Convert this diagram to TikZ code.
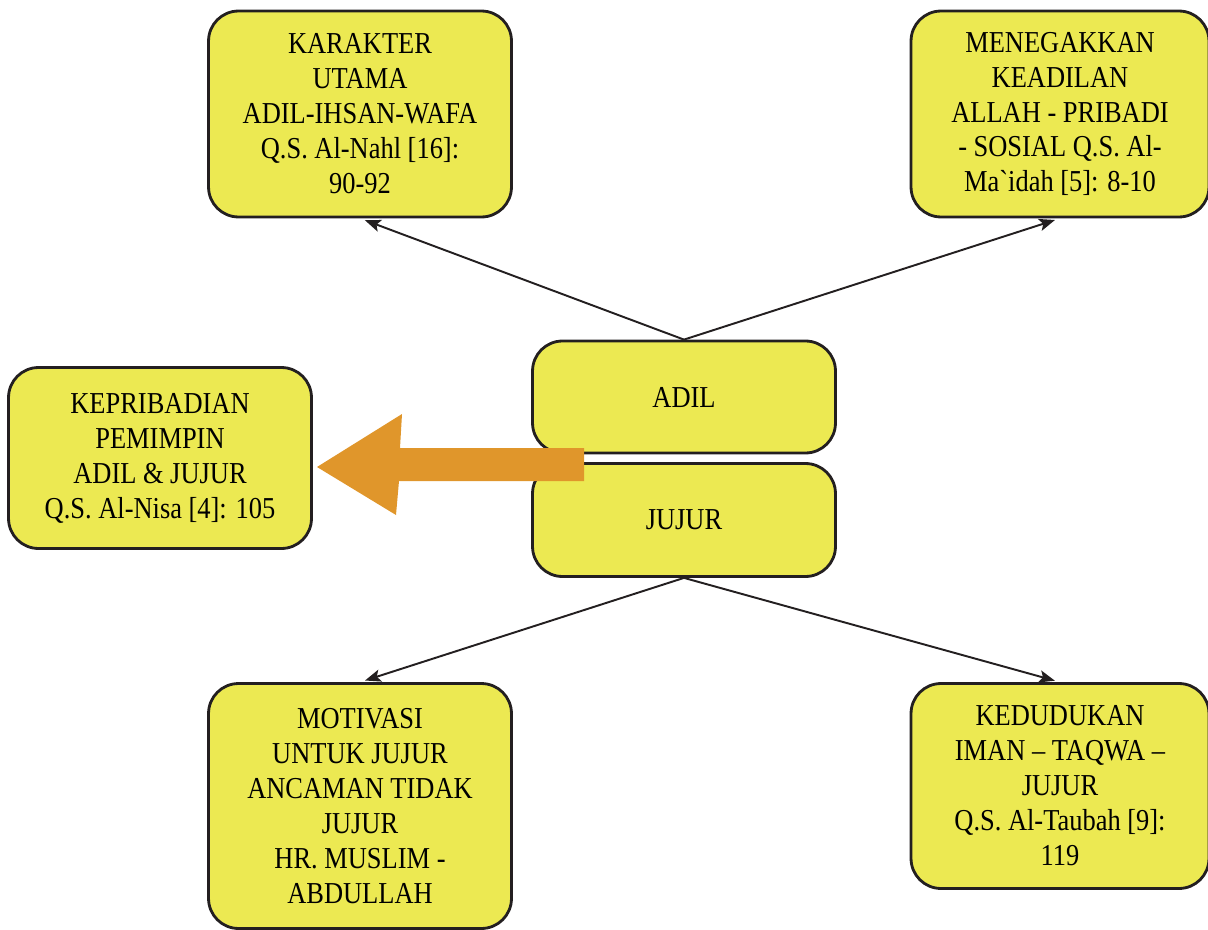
\documentclass[tikz,border=0pt]{standalone}
\usepackage{fontspec}
\setmainfont{Liberation Serif}[FakeStretch=0.87, Ligatures=TeXOff]
\usetikzlibrary{arrows.meta}
\definecolor{boxyellow}{HTML}{ECE952}
\definecolor{arroworange}{HTML}{E0962B}
\definecolor{edgeblack}{HTML}{231F20}
\begin{document}
\begin{tikzpicture}[x=0.02cm, y=-0.02cm]
      \tikzstyle{topic} = [rectangle, rounded corners=0.6cm, minimum width=6.06cm, text centered, align=center, draw=edgeblack, line width=1.6pt, fill=boxyellow, inner sep=0pt, font=\fontsize{17.3}{19.9}\selectfont]
      \tikzstyle{link} = [line width=1.1pt, draw=edgeblack, ->, >={Stealth[length=9pt, width=7pt, inset=2pt]}, shorten >=3pt]

      \useasboundingbox (0,0) rectangle (1208,930);

      \node (karakter) [topic, minimum height=4.12cm] at (360,114) {KARAKTER\\UTAMA\\ADIL-IHSAN-WAFA\\Q.S. Al-Nahl [16]:\\90-92};
      \node (keadilan) [topic, minimum height=4.12cm, minimum width=5.96cm] at (1060,114) {MENEGAKKAN\\KEADILAN\\ALLAH - PRIBADI\\- SOSIAL Q.S. Al-\\Ma`idah [5]: 8-10};
      \node (kepribadian) [topic, minimum height=3.62cm] at (160,458) {KEPRIBADIAN\\PEMIMPIN\\ADIL \& JUJUR\\Q.S. Al-Nisa [4]: 105};
      \node (adil) [topic, minimum height=2.24cm] at (684,397) {ADIL};
      \node (jujur) [topic, minimum height=2.26cm] at (684,520) {JUJUR};
      \node (motivasi) [topic, minimum height=4.9cm] at (360,806) {MOTIVASI\\UNTUK JUJUR\\ANCAMAN TIDAK\\JUJUR\\HR. MUSLIM -\\ABDULLAH};
      \node (kedudukan) [topic, minimum height=4.1cm, minimum width=5.96cm] at (1060,786) {KEDUDUKAN\\IMAN – TAQWA –\\JUJUR\\Q.S. Al-Taubah [9]:\\119};

      \draw [link] (adil.north) -- (karakter.south);
      \draw [link] (adil.north) -- (keadilan.south);
      \draw [link] (jujur.south) -- (motivasi.north);
      \draw [link] (jujur.south) -- (kedudukan.north);

      % big arrow from the centre to the left box
      \fill [arroworange] (584,448) -- (400,448) -- (402,414) -- (317,467) -- (396,515) -- (399,481) -- (584,481) -- cycle;
    \end{tikzpicture}
\end{document}
